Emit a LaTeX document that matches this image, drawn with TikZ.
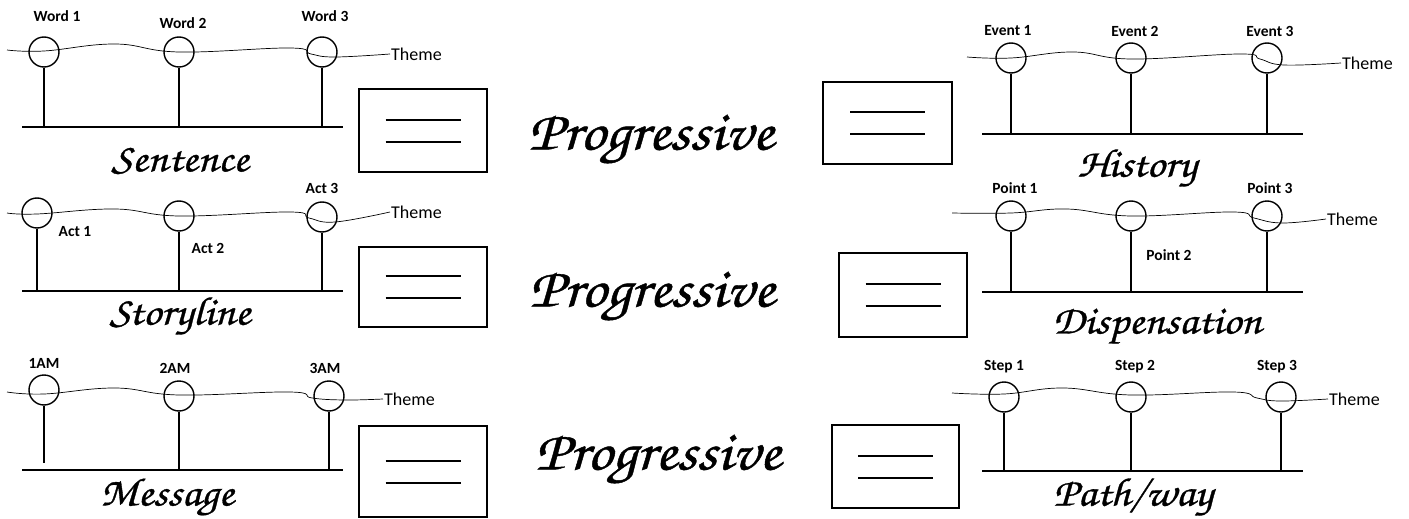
\documentclass[tikz,border=0pt]{standalone}
\usepackage{fontspec}
\setsansfont{Carlito}
\newfontfamily\callifont[FakeStretch=1.12,FakeBold=0.8]{texgyrechorus-mediumitalic.otf}
\usetikzlibrary{positioning,calc}
\tikzset{knob/.style={circle,draw,line width=1.4pt,minimum size=30pt,inner sep=0pt}}
\tikzset{stem/.style={line width=2.4pt}}
\tikzset{wave/.style={line width=0.7pt,smooth,tension=0.7}}
\tikzset{tag/.style={font=\sffamily\bfseries\fontsize{15.5}{17}\selectfont,inner sep=0pt}}
\tikzset{theme/.style={font=\sffamily\fontsize{18}{20}\selectfont,anchor=west,inner sep=1pt}}
\tikzset{title/.style={font=\callifont\fontsize{56}{60}\selectfont,inner sep=0pt}}
\tikzset{panelname/.style={font=\callifont\fontsize{40}{44}\selectfont,inner sep=0pt}}
\tikzset{eqbox/.style={draw,line width=1.5pt,inner sep=0pt}}
\tikzset{eqline/.style={line width=2pt}}

\begin{document}
\begin{tikzpicture}[x=1pt,y=-1pt]
  \useasboundingbox (0,0) rectangle (1409,519);

  % Sentence
  \coordinate (sL) at (22,127);
  \coordinate (sR) at (343,127);
  \draw[stem] (sL) -- (sR);
  \node[knob] (s1) at (44,52) {};
  \node[knob] (s2) at (179,52) {};
  \node[knob] (s3) at (322,52) {};
  \foreach \n in {s1,s2,s3}
    \draw[stem] (\n.south) -- (\n |- sL);
  \node[tag] (sw1) at (57,16) {Word 1};
  \node[tag] (sw2) at (183,23) {Word 2};
  \node[tag] (sw3) at (325,16) {Word 3};
  \node[theme] (sth) at (390,54) {Theme};
  \draw[wave] plot coordinates {(7,50) (44,51) (115,44) (179,52) (290,48) (311,54) (335,57) (sth.west)};
  \node[panelname] (sname) at (180,161) {Sentence};

  % History
  \coordinate (hL) at (982,134);
  \coordinate (hR) at (1303,134);
  \draw[stem] (hL) -- (hR);
  \node[knob] (h1) at (1011,58) {};
  \node[knob] (h2) at (1131,58) {};
  \node[knob] (h3) at (1267,58) {};
  \foreach \n in {h1,h2,h3}
    \draw[stem] (\n.south) -- (\n |- hL);
  \node[tag] (he1) at (1008,31) {Event 1};
  \node[tag] (he2) at (1135,31) {Event 2};
  \node[tag] (he3) at (1270,31) {Event 3};
  \node[theme] (hth) at (1341,63) {Theme};
  \draw[wave] plot coordinates {(967,57) (1011,58) (1073,52) (1131,59) (1240,54) (1260,59) (1284,65) (hth.west)};
  \node[panelname] (hname) at (1137,168) {History};

  % Storyline
  \coordinate (tL) at (22,291);
  \coordinate (tR) at (343,291);
  \draw[stem] (tL) -- (tR);
  \node[knob] (t1) at (37,213) {};
  \node[knob] (t2) at (179,216) {};
  \node[knob] (t3) at (322,217) {};
  \foreach \n in {t1,t2,t3}
    \draw[stem] (\n.south) -- (\n |- tL);
  \node[tag] (ta1) at (75,232) {Act 1};
  \node[tag] (ta2) at (208,248) {Act 2};
  \node[tag] (ta3) at (322,188) {Act 3};
  \node[theme] (tth) at (390,212) {Theme};
  \draw[wave] plot coordinates {(7,213) (37,214) (115,209) (179,216) (290,212) (309,218) (335,222) (tth.west)};
  \node[panelname] (tname) at (180,316) {Storyline};

  % Dispensation
  \coordinate (dL) at (982,292);
  \coordinate (dR) at (1303,292);
  \draw[stem] (dL) -- (dR);
  \node[knob] (d1) at (1011,216) {};
  \node[knob] (d2) at (1131,216) {};
  \node[knob] (d3) at (1267,216) {};
  \foreach \n in {d1,d2,d3}
    \draw[stem] (\n.south) -- (\n |- dL);
  \node[tag] (dp1) at (1015,188) {Point 1};
  \node[tag] (dp2) at (1169,255) {Point 2};
  \node[tag] (dp3) at (1270,188) {Point 3};
  \node[theme] (dth) at (1326,219) {Theme};
  \draw[wave] plot coordinates {(952,213) (1011,213) (1067,209) (1131,216) (1233,212) (1254,218) (1282,223) (dth.west)};
  \node[panelname] (dname) at (1157,326) {Dispensation};

  % Message
  \coordinate (mL) at (22,470);
  \coordinate (mR) at (343,470);
  \coordinate (mEnd) at (44,463);
  \draw[stem] (mL) -- (mR);
  \node[knob] (m1) at (44,390) {};
  \node[knob] (m2) at (179,396) {};
  \node[knob] (m3) at (329,396) {};
  \draw[stem] (m1.south) -- (mEnd);
  \foreach \n in {m2,m3}
    \draw[stem] (\n.south) -- (\n |- mL);
  \node[tag] (mh1) at (44,363) {1AM};
  \node[tag] (mh2) at (175,368) {2AM};
  \node[tag] (mh3) at (325,368) {3AM};
  \node[theme] (mth) at (383,399) {Theme};
  \draw[wave] plot coordinates {(7,392) (44,394) (115,388) (179,395) (290,392) (312,398) (345,400) (mth.west)};
  \node[panelname] (mname) at (167,497) {Message};

  % Path/way
  \coordinate (pL) at (982,471);
  \coordinate (pR) at (1303,471);
  \draw[stem] (pL) -- (pR);
  \node[knob] (p1) at (1004,397) {};
  \node[knob] (p2) at (1131,397) {};
  \node[knob] (p3) at (1281,397) {};
  \foreach \n in {p1,p2,p3}
    \draw[stem] (\n.south) -- (\n |- pL);
  \node[tag] (ps1) at (1004,367) {Step 1};
  \node[tag] (ps2) at (1135,367) {Step 2};
  \node[tag] (ps3) at (1277,367) {Step 3};
  \node[theme] (pth) at (1328,399) {Theme};
  \draw[wave] plot coordinates {(952,393) (1004,394) (1063,388) (1131,395) (1233,392) (1257,398) (1280,401) (pth.west)};
  \node[panelname] (pname) at (1133,497) {Path/way};

  % equals boxes
  \node[eqbox,minimum width=128pt,minimum height=83pt] (eqA) at (423,130.5) {};
  \node[eqbox,minimum width=129pt,minimum height=82pt] (eqB) at (887.5,123) {};
  \node[eqbox,minimum width=128pt,minimum height=80pt] (eqC) at (423,287) {};
  \node[eqbox,minimum width=128pt,minimum height=84pt] (eqD) at (903,295) {};
  \node[eqbox,minimum width=128pt,minimum height=91pt] (eqE) at (423,471.5) {};
  \node[eqbox,minimum width=127pt,minimum height=83pt] (eqF) at (895.5,466.5) {};
  \foreach \b in {eqA,eqB,eqC,eqD,eqE,eqF} {
    \draw[eqline] ($(\b.center)+(-37.5,-11)$) -- ($(\b.center)+(37.5,-11)$);
    \draw[eqline] ($(\b.center)+(-37.5,11)$) -- ($(\b.center)+(37.5,11)$);
  }

  % middle words
  \node[title] (pg1) at (651,139) {Progressive};
  \node[title] (pg2) at (652,296) {Progressive};
  \node[title] (pg3) at (658,459) {Progressive};
\end{tikzpicture}
\end{document}
